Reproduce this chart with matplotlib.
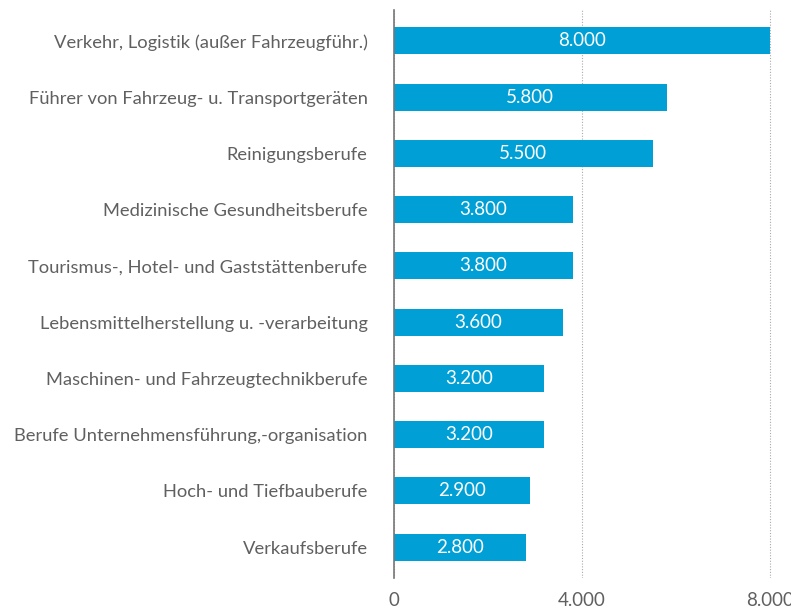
import matplotlib
matplotlib.use('Agg')
import matplotlib.pyplot as plt

categories = [
    "Verkehr, Logistik (außer Fahrzeugführ.)",
    "Führer von Fahrzeug- u. Transportgeräten",
    "Reinigungsberufe",
    "Medizinische Gesundheitsberufe",
    "Tourismus-, Hotel- und Gaststättenberufe",
    "Lebensmittelherstellung u. -verarbeitung",
    "Maschinen- und Fahrzeugtechnikberufe",
    "Berufe Unternehmensführung,-organisation",
    "Hoch- und Tiefbauberufe",
    "Verkaufsberufe",
]
values = [8000, 5800, 5500, 3800, 3800, 3600, 3200, 3200, 2900, 2800]
xticks = [0, 4000, 8000]
xtick_labels = ["0", "4.000", "8.000"]

plt.rcParams['font.family'] = ['Lato', 'DejaVu Sans']

fig = plt.figure(figsize=(7.91, 6.10), dpi=100)
ax = fig.add_axes([394 / 791, 1 - 578 / 610, (772 - 394) / 791, 568 / 610])

pos = list(range(len(categories)))
bars = ax.barh(pos, values, height=0.48, color='#00a0d6', zorder=3)
for b, v in zip(bars, values):
    ax.text(v / 2, b.get_y() + b.get_height() / 2, f"{v:,}".replace(",", "."),
            ha='center', va='center', color='white', fontsize=13.5, zorder=4)

ax.set_ylim(len(categories) - 0.45, -0.55)
ax.set_xlim(0, 8040)
ax.set_yticks(pos)
ax.set_yticklabels(categories, fontsize=13.2, color='#606060')
ax.set_xticks(xticks)
ax.set_xticklabels(xtick_labels, fontsize=13.5, color='#606060')
ax.tick_params(axis='y', length=0, pad=19)
ax.tick_params(axis='x', length=0, pad=10)

for s in ['top', 'right', 'bottom']:
    ax.spines[s].set_visible(False)
ax.spines['left'].set_color('#777777')
ax.spines['left'].set_linewidth(1.2)
ax.spines['left'].set_zorder(5)

ax.xaxis.grid(True, linestyle=(0, (1, 1.5)), color='#aaaaaa', linewidth=0.8, zorder=1)
ax.set_axisbelow(True)

fig.savefig('out.png', dpi=100)
